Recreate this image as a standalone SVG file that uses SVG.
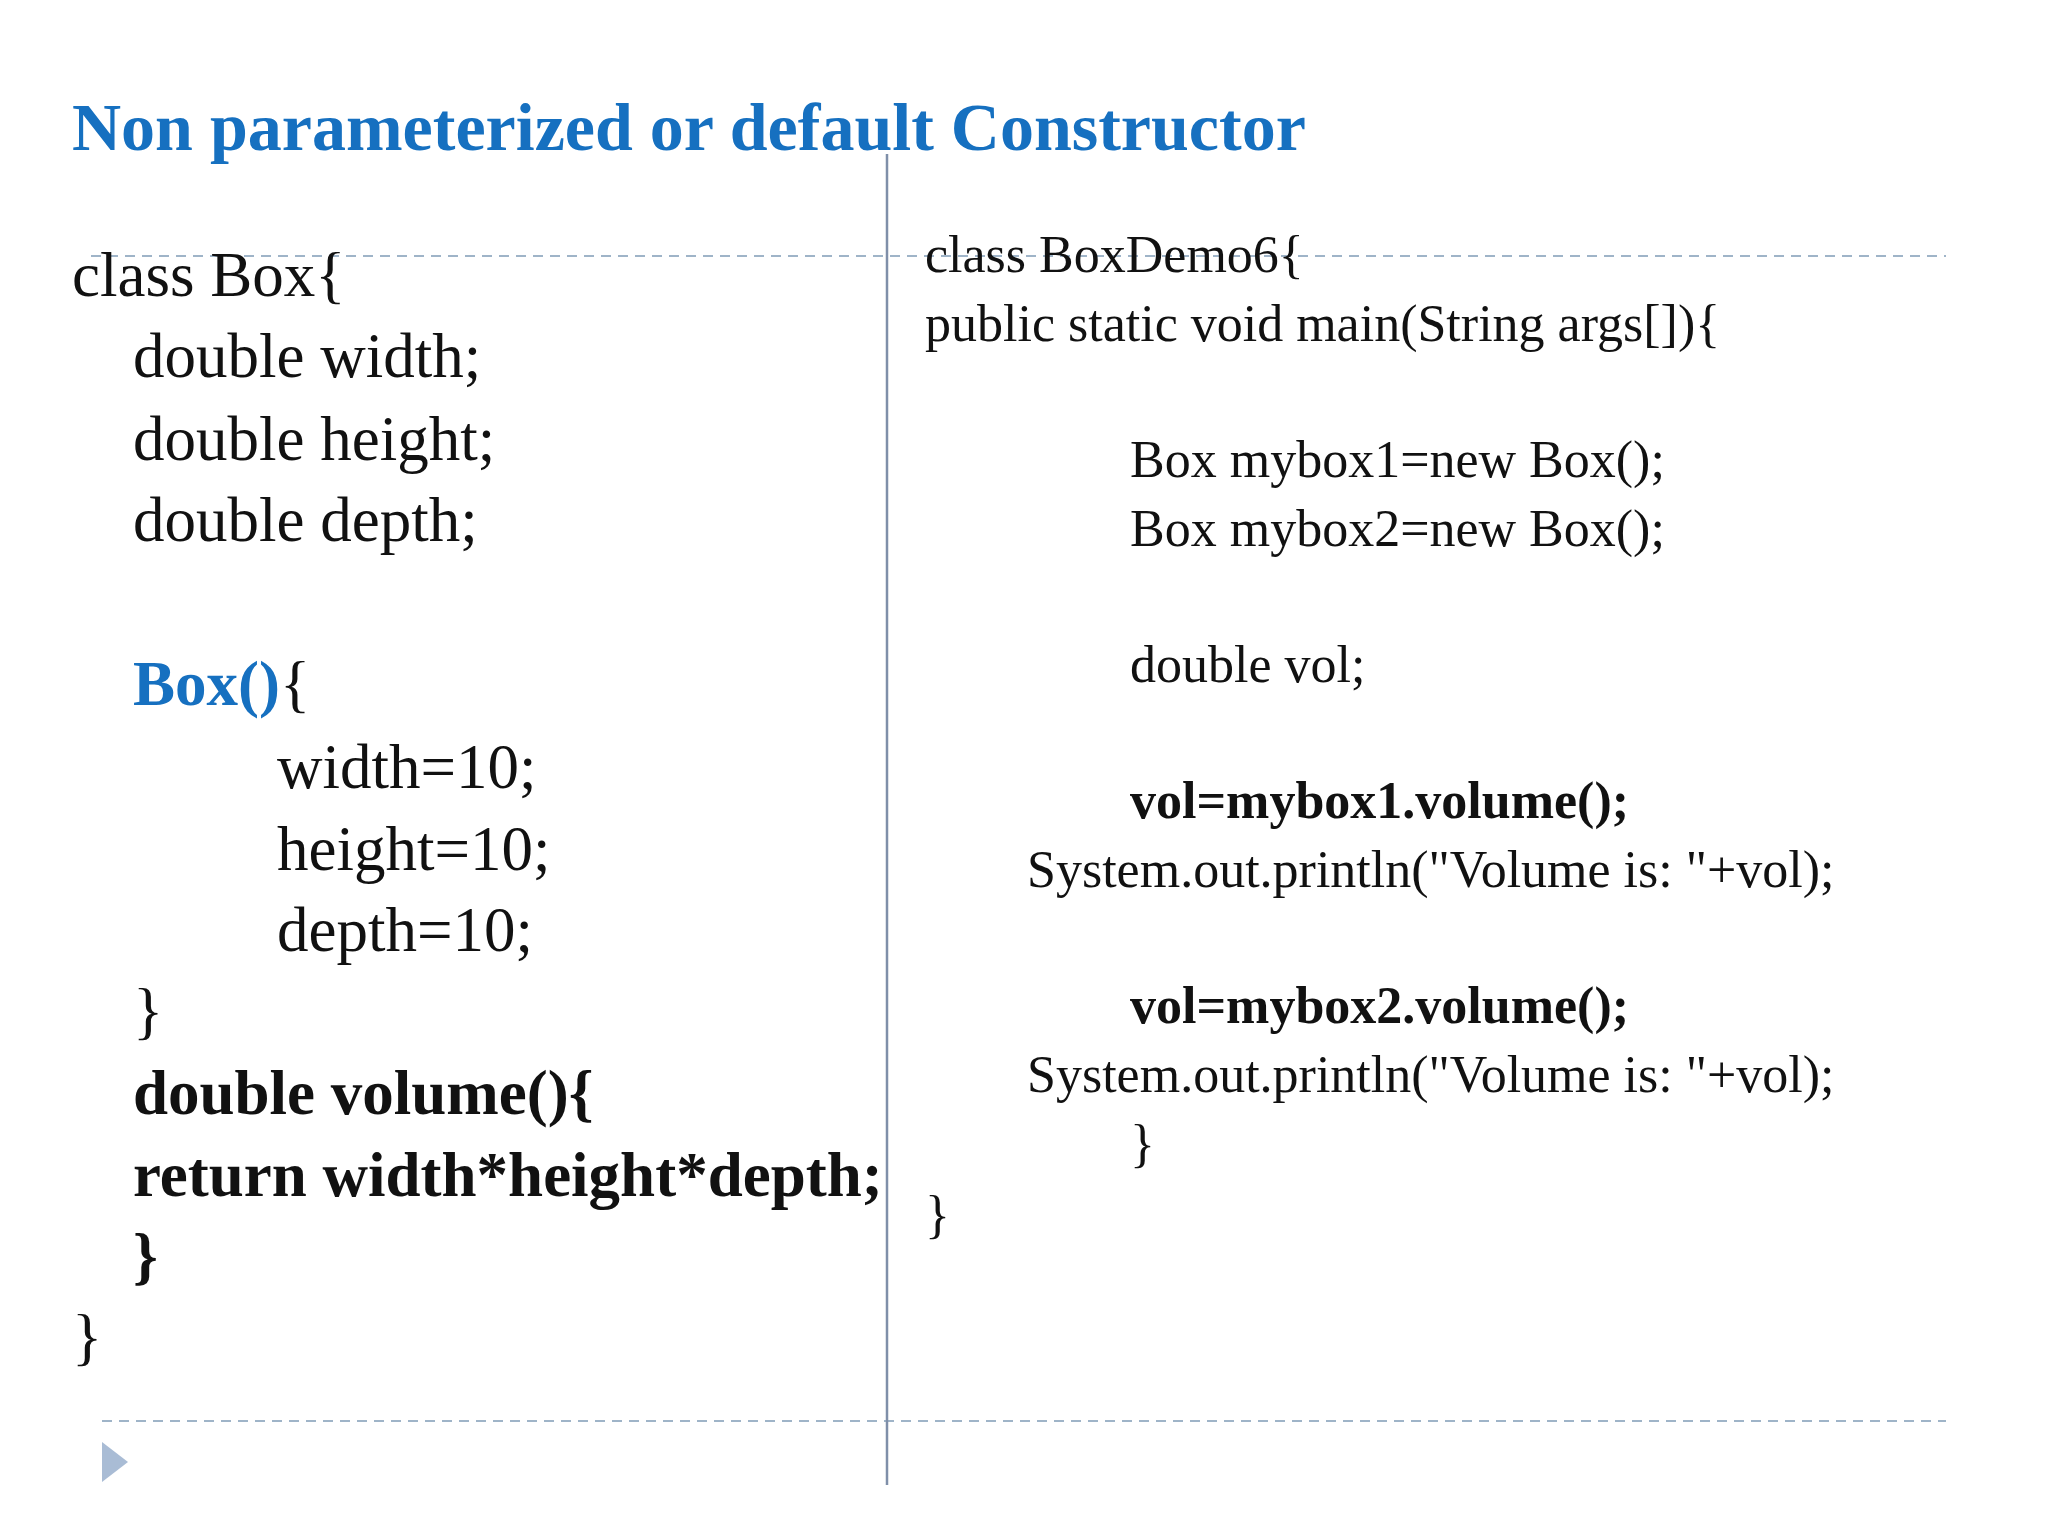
<svg xmlns="http://www.w3.org/2000/svg" width="2048" height="1536" viewBox="0 0 2048 1536">
<style>
text{font-family:"Liberation Serif","Times New Roman",serif;fill:#111}
.l{font-size:63px}
.r{font-size:52px}
.b{font-weight:bold}
.blue{fill:#1670C0}
.dash{stroke:#9fb4c8;stroke-width:2;stroke-dasharray:10 7;fill:none}
</style>
<rect width="2048" height="1536" fill="#fff"/>
<g id="frame">
<line class="dash" x1="91" y1="256" x2="1946" y2="256"/>
<line class="dash" x1="102" y1="1421" x2="1946" y2="1421"/>
<line x1="887" y1="154" x2="887" y2="1485" stroke="#7f8fa9" stroke-width="2.5"/>
<polygon points="102,1442 128,1462 102,1482" fill="#a9bcd5"/>
</g>
<g id="title"><text x="72" y="150" font-size="68" class="b blue">Non parameterized or default Constructor</text></g>
<g id="left">
<text class="l" x="72" y="296">class Box{</text>
<text class="l" x="133" y="377">double width;</text>
<text class="l" x="133" y="460">double height;</text>
<text class="l" x="133" y="541">double depth;</text>
<text class="l" x="133" y="705"><tspan class="b blue">Box()</tspan>{</text>
<text class="l" x="277" y="788">width=10;</text>
<text class="l" x="277" y="870">height=10;</text>
<text class="l" x="277" y="951">depth=10;</text>
<text class="l" x="133" y="1032">}</text>
<text class="l b" x="133" y="1114">double volume(){</text>
<text class="l b" x="133" y="1196">return width*height*depth;</text>
<text class="l b" x="133" y="1277">}</text>
<text class="l" x="72" y="1358">}</text>
</g>
<g id="right">
<text class="r" x="925" y="272">class BoxDemo6{</text>
<text class="r" x="925" y="341">public static void main(String args[]){</text>
<text class="r" x="1130" y="477">Box mybox1=new Box();</text>
<text class="r" x="1130" y="546">Box mybox2=new Box();</text>
<text class="r" x="1130" y="682">double vol;</text>
<text class="r b" x="1130" y="818">vol=mybox1.volume();</text>
<text class="r" x="1027" y="887">System.out.println("Volume is: "+vol);</text>
<text class="r b" x="1130" y="1023">vol=mybox2.volume();</text>
<text class="r" x="1027" y="1092">System.out.println("Volume is: "+vol);</text>
<text class="r" x="1130" y="1161">}</text>
<text class="r" x="925" y="1232">}</text>
</g>
</svg>
